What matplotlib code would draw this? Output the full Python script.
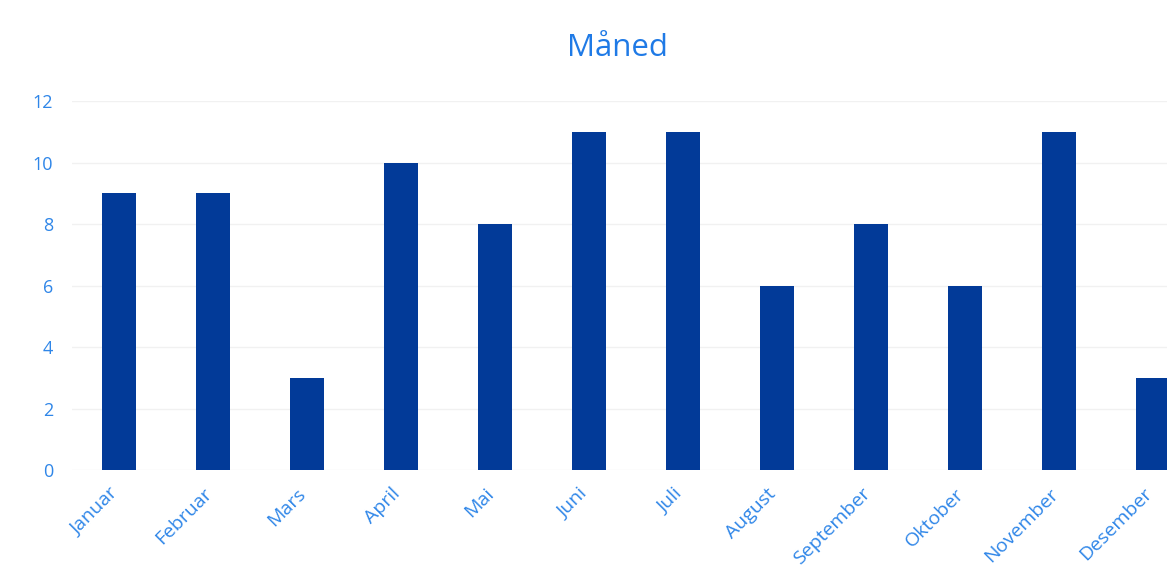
import matplotlib
matplotlib.use('Agg')
import matplotlib.pyplot as plt

plt.rcParams['font.family'] = ['Open Sans', 'DejaVu Sans']

# data
months = ['Januar', 'Februar', 'Mars', 'April', 'Mai', 'Juni',
          'Juli', 'August', 'September', 'Oktober', 'November', 'Desember']
counts = [9, 9, 3, 10, 8, 11, 11, 6, 8, 6, 11, 3]
y_ticks = [0, 2, 4, 6, 8, 10, 12]

bar_color = '#023a98'
text_color = '#2f86e8'

fig = plt.figure(figsize=(11.67, 5.87), dpi=100)
ax = fig.add_axes([0.062, 0.199, 0.9666, 0.629])

ax.bar(range(len(months)), counts, width=0.36, color=bar_color, zorder=3)
ax.set_xlim(-0.5, len(months) - 0.5)
ax.set_ylim(0, 12)
ax.set_yticks(y_ticks)
ax.set_xticks(range(len(months)))
ax.set_xticklabels([])

# månedsetiketter, litt forskjøvet mot venstre som i originalen
for i, m in enumerate(months):
    ax.annotate(m, xy=(i, 0), xycoords=('data', 'axes fraction'),
                xytext=(-3, -15), textcoords='offset points',
                rotation=45, ha='right', va='center', rotation_mode='anchor',
                fontsize=14, color=text_color, annotation_clip=False)

ax.grid(axis='y', color='#f1f1f1', linewidth=1, zorder=0)
for s in ax.spines.values():
    s.set_visible(False)
ax.tick_params(axis='both', length=0, labelsize=13, colors=text_color)
ax.tick_params(axis='y', pad=14)

fig.text(0.529, 0.918, 'Måned', ha='center', va='center', fontsize=22.5, color='#1f7ae6')

plt.savefig('out.png', dpi=100)
plt.close()
